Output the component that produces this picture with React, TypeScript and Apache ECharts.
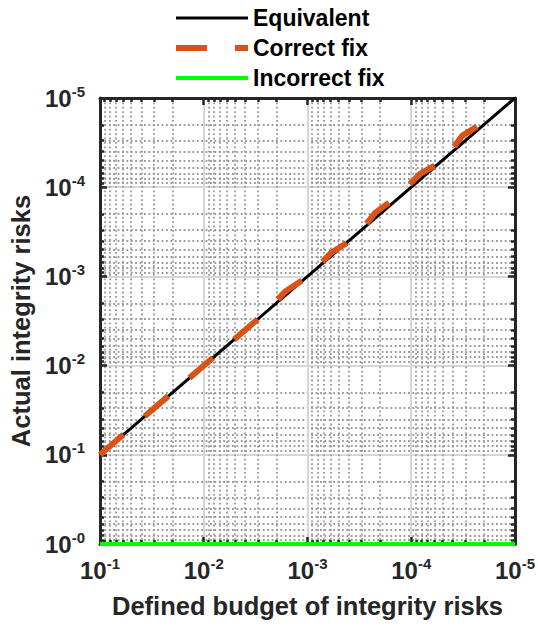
import React, { useEffect, useRef } from "react";
import * as echarts from "echarts";

// ---- data ----
const xMajorTicks = [1e-1, 1e-2, 1e-3, 1e-4, 1e-5];
const xTickLabels = ["-1", "-2", "-3", "-4", "-5"];
const yMajorTicks = [1e-5, 1e-4, 1e-3, 1e-2, 1e-1, 1];
const yTickLabels = ["-5", "-4", "-3", "-2", "-1", "-0"];
const minorMantissas = [2, 3, 4, 5, 6, 7, 8, 9];
const xDecades = [1e-5, 1e-4, 1e-3, 1e-2];
const yDecades = [1e-5, 1e-4, 1e-3, 1e-2, 1e-1];

const equivalentX = [1e-1, 1e-5];
const equivalentY = [1e-1, 1e-5];
const correctX = [1e-1, 4.48e-3, 2.685e-3, 1.648e-3, 9.68e-4, 5.93e-4, 3.48e-4, 2.23e-4, 1.34e-4, 8.24e-5, 4.73e-5, 3.24e-5, 1.95e-5];
const correctY = [1e-1, 4.48e-3, 2.685e-3, 1.489e-3, 9.86e-4, 5.44e-4, 3.7e-4, 1.94e-4, 1.25e-4, 7.1e-5, 4.94e-5, 2.66e-5, 1.85e-5];
const incorrectX = [1e-1, 1e-5];
const incorrectY = [1, 1];

const FONT = "'Liberation Sans', Arial, Helvetica, sans-serif";
const DARK = "#262626";

const zip = (a: number[], b: number[]) => a.map((v, i) => [v, b[i]]);
const minorOf = (decades: number[]) => {
  const out: number[] = [];
  decades.forEach((d) => minorMantissas.forEach((m) => out.push(m * d)));
  return out;
};

const labelFor = (ticks: number[], labels: string[]) => (v: number) => {
  const i = ticks.findIndex((t) => Math.abs(Math.log10(t) - Math.log10(v)) < 0.01);
  return i < 0 ? "" : `{b|10}{s|${labels[i]}}`;
};

const rich = {
  b: { fontSize: 24, fontWeight: "bold", color: DARK, fontFamily: FONT },
  s: { fontSize: 15, fontWeight: "bold", color: DARK, fontFamily: FONT, padding: [0, 0, 14, 0] },
};

export default function App() {
  const ref = useRef<HTMLDivElement>(null);
  useEffect(() => {
    if (!ref.current) return;
    const chart = echarts.init(ref.current, undefined, { renderer: "svg" });
    const xMinor = minorOf(xDecades);
    const yMinor = minorOf(yDecades);
    const gridRect = { left: 100, right: 23, top: 98, bottom: 83, containLabel: false };
    const xBase = { type: "log", logBase: 10, min: 1e-5, max: 1e-1, inverse: true };
    const yBase = { type: "log", logBase: 10, min: 1e-5, max: 1, inverse: true };
    const mainLine = { show: true, onZero: false, lineStyle: { color: DARK, width: 3 } };
    const majorTick = { show: true, inside: true, length: 7, lineStyle: { color: DARK, width: 2.5 } };
    const minorTick = { show: true, inside: true, length: 4, lineStyle: { color: DARK, width: 2.5 } };
    const majorSplit = { show: true, lineStyle: { color: "#d6d6d6", width: 2 } };
    const minorSplit = { show: true, lineStyle: { color: "#9a9a9a", width: 1.8, type: [1.8, 2.6] } };
    const nameStyle = { fontSize: 25.5, fontWeight: "bold", color: DARK, fontFamily: FONT };

    chart.setOption({
      animation: false,
      backgroundColor: "#ffffff",
      legend: {
        orient: "vertical",
        left: 173,
        top: 3,
        padding: 0,
        itemWidth: 72,
        itemHeight: 2,
        itemGap: 0,
        selectedMode: false,
        itemStyle: { opacity: 0 },
        lineStyle: { width: "inherit" },
        textStyle: { fontSize: 23, fontWeight: "bold", color: "#000", fontFamily: FONT, lineHeight: 30 },
        data: ["Equivalent", "Correct fix", "Incorrect fix"],
      },
      grid: [gridRect, gridRect],
      xAxis: [
        {
          ...xBase, gridIndex: 0, position: "bottom",
          axisLine: mainLine,
          axisTick: { ...majorTick, customValues: xMajorTicks },
          axisLabel: { customValues: xMajorTicks, formatter: labelFor(xMajorTicks, xTickLabels), rich, margin: 12 },
          splitLine: majorSplit, minorTick: { show: false }, minorSplitLine: { show: false },
          name: "Defined budget of integrity risks", nameLocation: "middle", nameGap: 49, nameTextStyle: nameStyle,
        },
        {
          ...xBase, gridIndex: 0, position: "top",
          axisLine: mainLine,
          axisTick: { ...majorTick, customValues: xMajorTicks },
          axisLabel: { show: false }, splitLine: { show: false },
        },
        {
          ...xBase, gridIndex: 1, position: "bottom",
          axisLine: { show: false },
          axisTick: { ...minorTick, customValues: xMinor },
          axisLabel: { show: false }, splitLine: minorSplit,
        },
        {
          ...xBase, gridIndex: 1, position: "top",
          axisLine: { show: false },
          axisTick: { ...minorTick, customValues: xMinor },
          axisLabel: { show: false }, splitLine: { show: false },
        },
      ],
      yAxis: [
        {
          ...yBase, gridIndex: 0, position: "left",
          axisLine: mainLine,
          axisTick: { ...majorTick, customValues: yMajorTicks },
          axisLabel: { customValues: yMajorTicks, formatter: labelFor(yMajorTicks, yTickLabels), rich, margin: 15 },
          splitLine: majorSplit,
          name: "Actual integrity risks", nameLocation: "middle", nameGap: 64, nameTextStyle: nameStyle,
        },
        {
          ...yBase, gridIndex: 0, position: "right",
          axisLine: mainLine,
          axisTick: { ...majorTick, customValues: yMajorTicks },
          axisLabel: { show: false }, splitLine: { show: false },
        },
        {
          ...yBase, gridIndex: 1, position: "left",
          axisLine: { show: false },
          axisTick: { ...minorTick, customValues: yMinor },
          axisLabel: { show: false }, splitLine: minorSplit,
        },
        {
          ...yBase, gridIndex: 1, position: "right",
          axisLine: { show: false },
          axisTick: { ...minorTick, customValues: yMinor },
          axisLabel: { show: false }, splitLine: { show: false },
        },
      ],
      series: [
        {
          name: "Equivalent", type: "line", xAxisIndex: 0, yAxisIndex: 0,
          data: zip(equivalentX, equivalentY), symbol: "none", z: 5,
          lineStyle: { color: "#000000", width: 3 }, itemStyle: { color: "#000000" },
        },
        {
          name: "Correct fix", type: "line", xAxisIndex: 0, yAxisIndex: 0,
          data: zip(correctX, correctY), symbol: "none", z: 6,
          lineStyle: { color: "#D95319", width: 6, type: [31, 28], cap: "butt" }, itemStyle: { color: "#D95319" },
        },
        {
          name: "Incorrect fix", type: "line", xAxisIndex: 0, yAxisIndex: 0,
          data: zip(incorrectX, incorrectY), symbol: "none", z: 7,
          lineStyle: { color: "#00FF00", width: 4 }, itemStyle: { color: "#00FF00" },
        },
      ],
    });
    return () => chart.dispose();
  }, []);
  return <div ref={ref} style={{ width: 538, height: 627, position: "absolute", left: 0, top: 0 }} />;
}
